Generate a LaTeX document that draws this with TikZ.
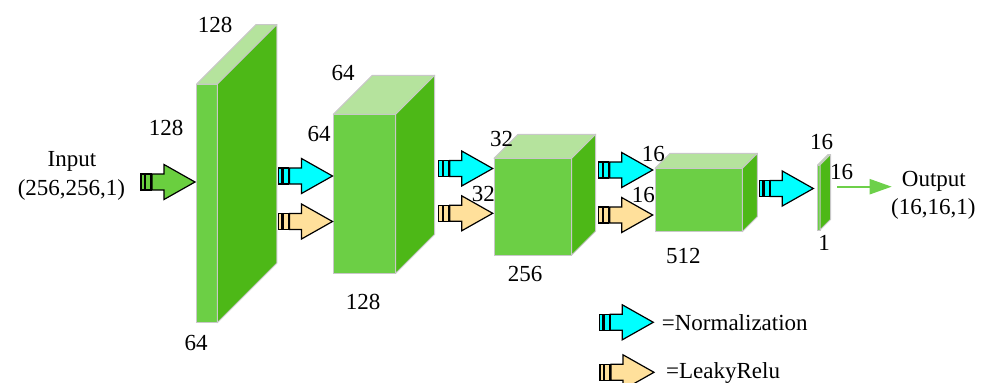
\documentclass[tikz,border=0pt]{standalone}
\usepackage{fontspec}
\setmainfont{Liberation Serif}
\usetikzlibrary{arrows.meta,calc}
\definecolor{gfront}{HTML}{6CCF45}
\definecolor{gtop}{HTML}{B5E39D}
\definecolor{gside}{HTML}{4DB817}
\definecolor{edgegray}{HTML}{C8C8C8}
\definecolor{ncyan}{HTML}{00FFFF}
\definecolor{lyel}{HTML}{FFE09B}
\definecolor{ingreen}{HTML}{6ACF3F}
\definecolor{outgreen}{HTML}{6DD04A}
\tikzset{
  face/.style={draw=edgegray, fill=gfront, line width=1pt, inner sep=0pt, outer sep=0pt},
  topface/.style={draw=edgegray, fill=gtop, line width=1pt, line join=round},
  sideface/.style={draw=edgegray, fill=gside, line width=1pt, line join=round},
  arrowline/.style={draw=black, line width=1.2pt, line join=miter},
  lbl/.style={font=\fontsize{23}{27.5}\selectfont, inner sep=0pt, anchor=base},
  lblw/.style={font=\fontsize{23}{27.5}\selectfont, inner sep=0pt, anchor=base west},
  outline/.style={draw=outgreen, line width=2.2pt, -{Triangle[length=22pt,width=15pt]}}
}
% name, cx, cy, w, h, depth
\newcommand\mylayer[6]{%
  \node[face, minimum width=#4pt, minimum height=#5pt] (#1) at (#2,#3) {};
  \filldraw[topface] (#1.north west) -- ++(#6,-#6) -- ++(#4,0) -- (#1.north east) -- cycle;
  \filldraw[sideface] (#1.north east) -- ++(#6,-#6) -- ++(0,#5) -- (#1.south east) -- cycle;
}
% name, tipx, tipy, colour
\newcommand\sarrow[4]{%
  \coordinate (#1) at (#2,#3);
  \begin{scope}[shift={(#2-54,#3)}]
    \filldraw[arrowline, fill=#4] (0,-8) rectangle (3.5,8);
    \filldraw[arrowline, fill=#4] (4.7,-8) rectangle (10,8);
    \filldraw[arrowline, fill=#4] (11,-8) -- (23,-8) -- (23,-17.5) -- (54,0) -- (23,17.5) -- (23,8) -- (11,8) -- cycle;
  \end{scope}
}
\begin{document}
\begin{tikzpicture}[x=1pt,y=-1pt]
\useasboundingbox (0,0) rectangle (986,383);

% layers
\mylayer{b1}{207}{203.35}{20.6}{238.7}{59.5}
\mylayer{b2}{364.5}{193.8}{62.4}{159}{39}
\mylayer{b3}{532.85}{206.65}{77.7}{96.7}{24}
\mylayer{b4}{698.65}{200}{87.3}{63.4}{15}
\mylayer{b5}{818.75}{197.5}{2.5}{65}{10.5}

% arrows
\sarrow{ain}{195}{182}{ingreen}
\sarrow{n1}{332.5}{176}{ncyan}
\sarrow{l1}{332.5}{221.5}{lyel}
\sarrow{n2}{492.7}{168.5}{ncyan}
\sarrow{l2}{492.7}{213.3}{lyel}
\sarrow{n3}{652.7}{170}{ncyan}
\sarrow{l3}{652.7}{215}{lyel}
\sarrow{n4}{813.3}{188.5}{ncyan}
\sarrow{nleg}{653.3}{322.3}{ncyan}
\sarrow{lleg}{654}{372.3}{lyel}

% labels
\node[lbl] (t1a) at (215,32.3) {128};
\node[lbl] (t1b) at (166,135) {128};
\node[lbl] (t1c) at (196,350) {64};
\node[lbl] (t2a) at (343,80) {64};
\node[lbl] (t2b) at (319,141.7) {64};
\node[lbl] (t2c) at (363,309) {128};
\node[lbl] (t3a) at (501.7,146.7) {32};
\node[lbl] (t3b) at (483.3,201.7) {32};
\node[lbl] (t3c) at (525,281.7) {256};
\node[lbl] (t4a) at (653.3,161.7) {16};
\node[lbl] (t4b) at (643.3,202.7) {16};
\node[lbl] (t4c) at (683.3,263) {512};
\node[lbl] (t5a) at (821.7,149.3) {16};
\node[lbl] (t5b) at (841.7,179.3) {16};
\node[lbl] (t5c) at (824,250.7) {1};

\node[lbl] (in1) at (72,166.7) {Input};
\node[lbl] (in2) at (71.5,195) {(256,256,1)};
\node[lblw] (out1) at (901.7,186.7) {Output};
\node[lbl] (out2) at (933.3,214) {(16,16,1)};

\node[lblw] (legn) at (661.7,330) {=Normalization};
\node[lblw] (legl) at (666,378.3) {=LeakyRelu};

% output connector
\coordinate (oa) at (837.3,186.7);
\draw[outline, shorten >=10pt] (oa) -- (out1.base west);
\end{tikzpicture}
\end{document}
